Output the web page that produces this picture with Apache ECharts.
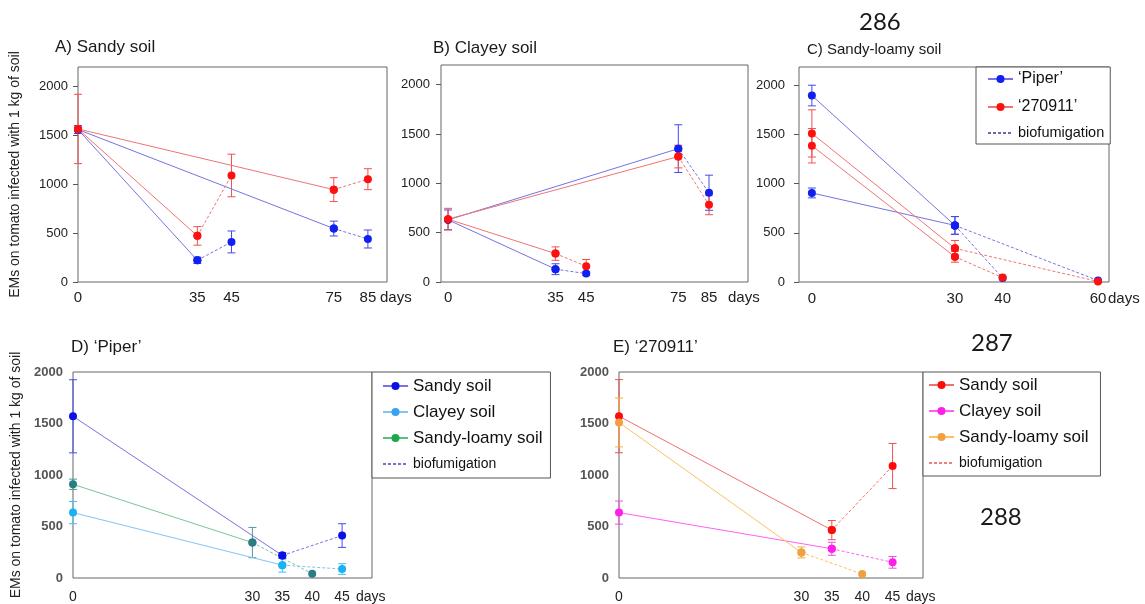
<!DOCTYPE html>
<html>
<head>
<meta charset="utf-8">
<script src="https://cdn.jsdelivr.net/npm/echarts@6/dist/echarts.min.js"></script>
<style>
  html, body { margin: 0; background: #fff; }
  #main { width: 1145px; height: 604px; }
</style>
</head>
<body>
<div id="main"></div>
<script>
// A) Sandy soil  (index paths: 0->35 solid, 35->45 dashed, 0->75 solid, 75->85 dashed)
var aDays = [0, 35, 45, 75, 85];
var aPiper = [1560, 222, 410, 547, 440];
var aPiperErr = [40, 32, 112, 76, 92];
var a270911 = [1566, 472, 1090, 945, 1052];
var a270911Err = [355, 95, 218, 122, 107];

// B) Clayey soil
var bDays = [0, 35, 45, 75, 85];
var bPiper = [630, 130, 85, 1352, 905];
var bPiperErr = [100, 55, 18, 242, 178];
var b270911 = [637, 288, 160, 1272, 782];
var b270911Err = [110, 68, 68, 115, 100];

// C) Sandy-loamy soil, two runs per cultivar
var cPiper1Days = [0, 30, 40];
var cPiper1 = [1895, 575, 40];
var cPiper1Err = [105, 90, 0];
var cPiper2Days = [0, 30, 60];
var cPiper2 = [905, 575, 15];
var cPiper2Err = [50, 90, 0];
var c2709111Days = [0, 30, 60];
var c2709111 = [1510, 342, 5];
var c2709111Err = [240, 80, 0];
var c2709112Days = [0, 30, 40];
var c2709112 = [1385, 256, 45];
var c2709112Err = [175, 55, 0];

// D) 'Piper'
var dSandyDays = [0, 35, 45];
var dSandy = [1570, 219, 412];
var dSandyErr = [355, 28, 115];
var dClayeyDays = [0, 35, 45];
var dClayey = [635, 125, 87];
var dClayeyErr = [108, 68, 52];
var dLoamyDays = [0, 30, 40];
var dLoamy = [910, 344, 42];
var dLoamyErr = [50, 147, 0];

// E) '270911'
var eSandyDays = [0, 35, 45];
var eSandy = [1571, 465, 1087];
var eSandyErr = [355, 93, 219];
var eClayeyDays = [0, 35, 45];
var eClayey = [635, 284, 152];
var eClayeyErr = [112, 63, 57];
var eLoamyDays = [0, 30, 40];
var eLoamy = [1510, 248, 39];
var eLoamyErr = [237, 53, 0];

var yTicks = [0, 500, 1000, 1500, 2000];
var abTicks = [0, 35, 45, 75, 85];
var cTicks = [0, 30, 40, 60];
var deTicks = [0, 30, 35, 40, 45];
var yName = 'EMs on tomato infected with 1 kg of soil';

var FONT = '"Liberation Sans", Arial, sans-serif';
var NUMFONT = 'Lato, "Open Sans", sans-serif';
var BLUE = { line: '#7474e2', dot: '#1020f0', err: '#4848ea' };
var RED = { line: '#f07474', dot: '#ff1010', err: '#f05050' };

var chart = echarts.init(document.getElementById('main'));

function pick(days, vals, idx) {
  return idx.map(function (i) { return [days[i], vals[i]]; });
}

function line(name, g, data, col, dashed) {
  return {
    name: name, type: 'line', xAxisIndex: g, yAxisIndex: g, data: data,
    symbol: 'circle', symbolSize: 8, silent: true, z: 3,
    lineStyle: { color: col.line, width: 1, type: dashed ? [3, 2] : 'solid' },
    itemStyle: { color: col.dot }
  };
}

function renderErr(params, api) {
  var x = api.value(0);
  var lo = api.coord([x, api.value(1)]);
  var hi = api.coord([x, api.value(2)]);
  var w = 4;
  var st = { stroke: api.visual('color'), lineWidth: 1 };
  return {
    type: 'group', children: [
      { type: 'line', shape: { x1: lo[0], y1: lo[1], x2: hi[0], y2: hi[1] }, style: st },
      { type: 'line', shape: { x1: lo[0] - w, y1: lo[1], x2: lo[0] + w, y2: lo[1] }, style: st },
      { type: 'line', shape: { x1: hi[0] - w, y1: hi[1], x2: hi[0] + w, y2: hi[1] }, style: st }
    ]
  };
}

function errs(g, days, vals, err, col) {
  var data = [];
  days.forEach(function (d, i) {
    if (err[i] > 0) data.push([d, vals[i] - err[i], vals[i] + err[i]]);
  });
  return {
    type: 'custom', xAxisIndex: g, yAxisIndex: g, data: data, silent: true, z: 2,
    renderItem: renderErr, itemStyle: { color: col.err }
  };
}

// five-point panels (A, B)
function fivePoint(name, g, days, vals, err, col) {
  return [
    errs(g, days, vals, err, col),
    line(name, g, pick(days, vals, [0, 1]), col, false),
    line(name, g, pick(days, vals, [0, 3]), col, false),
    line(name, g, pick(days, vals, [1, 2]), col, true),
    line(name, g, pick(days, vals, [3, 4]), col, true)
  ];
}

// three-point paths (C, D, E): first leg solid, second dashed
function threePoint(name, g, days, vals, err, col) {
  return [
    errs(g, days, vals, err, col),
    line(name, g, pick(days, vals, [0, 1]), col, false),
    line(name, g, pick(days, vals, [1, 2]), col, true)
  ];
}

// legend-only entry for the dashed "biofumigation" key
function dummy(name, g, color) {
  return {
    name: name, type: 'line', xAxisIndex: g, yAxisIndex: g, data: [], symbol: 'none',
    lineStyle: { color: color, width: 1, type: [3, 2] },
    itemStyle: { color: 'rgba(0,0,0,0)', borderWidth: 0 }
  };
}

function plain(v) { return String(v); }

function xAxis(g, min, max, ticks, gap, size, margin) {
  return {
    gridIndex: g, type: 'value', min: min, max: max,
    axisLine: { show: false, onZero: false }, axisTick: { show: false }, splitLine: { show: false },
    axisLabel: { customValues: ticks, formatter: plain, fontSize: size, color: '#222', margin: margin, fontFamily: FONT },
    name: 'days', nameLocation: 'end', nameGap: gap, nameMoveOverlap: false,
    nameTextStyle: { fontSize: size, color: '#222', verticalAlign: 'top', padding: [margin, 0, 0, 0], fontFamily: FONT }
  };
}

function yAxis(g, max, bold, ticks, margin, name, nameGap) {
  var ax = {
    gridIndex: g, type: 'value', min: 0, max: max, interval: 500,
    axisLine: { show: false, onZero: false }, splitLine: { show: false },
    axisTick: { show: ticks, customValues: yTicks, length: 5, lineStyle: { color: '#555' } },
    axisLabel: {
      customValues: yTicks, formatter: plain, fontSize: 13, margin: margin, fontFamily: FONT,
      color: bold ? '#555' : '#222', fontWeight: bold ? 'bold' : 'normal'
    }
  };
  if (name) {
    ax.name = name;
    ax.nameLocation = 'middle';
    ax.nameGap = nameGap;
    ax.nameTextStyle = { fontSize: 14, color: '#222', fontFamily: FONT };
  }
  return ax;
}

function grid(left, top, width, height) {
  return {
    left: left, top: top, width: width, height: height, show: true,
    borderColor: '#666', borderWidth: 1, containLabel: false, outerBoundsMode: 'none'
  };
}

function title(text, left, top, size, family) {
  return {
    text: text, left: left, top: top, padding: 0,
    textStyle: { fontSize: size, fontWeight: 'normal', color: '#1a1a1a', fontFamily: family || FONT }
  };
}

var D_SANDY = { line: '#7a70e8', dot: '#0a10e8', err: '#4a4af0' };
var D_CLAYEY = { line: '#80c4f6', dot: '#19b2f2', err: '#40c0f0' };
var D_LOAMY = { line: '#7cc49a', dot: '#2b7d84', err: '#4a9a98' };
var E_SANDY = { line: '#f07070', dot: '#ff0a0a', err: '#f05050' };
var E_CLAYEY = { line: '#ff60f4', dot: '#ff1fe8', err: '#f050e0' };
var E_LOAMY = { line: '#ffc060', dot: '#f0a040', err: '#f0b040' };

var C_PIPER = 'C|\u2018Piper\u2019';
var C_2709 = 'C|\u2018270911\u2019';

var series = [].concat(
  fivePoint('A|Piper', 0, aDays, aPiper, aPiperErr, BLUE),
  fivePoint('A|270911', 0, aDays, a270911, a270911Err, RED),
  fivePoint('B|Piper', 1, bDays, bPiper, bPiperErr, BLUE),
  fivePoint('B|270911', 1, bDays, b270911, b270911Err, RED),
  threePoint(C_PIPER, 2, cPiper1Days, cPiper1, cPiper1Err, BLUE),
  threePoint(C_PIPER, 2, cPiper2Days, cPiper2, cPiper2Err, BLUE),
  threePoint(C_2709, 2, c2709111Days, c2709111, c2709111Err, RED),
  threePoint(C_2709, 2, c2709112Days, c2709112, c2709112Err, RED),
  [dummy('C|biofumigation', 2, '#6a6aa8')],
  threePoint('D|Sandy soil', 3, dSandyDays, dSandy, dSandyErr, D_SANDY),
  threePoint('D|Clayey soil', 3, dClayeyDays, dClayey, dClayeyErr, D_CLAYEY),
  threePoint('D|Sandy-loamy soil', 3, dLoamyDays, dLoamy, dLoamyErr, D_LOAMY),
  [dummy('D|biofumigation', 3, '#7a70c8')],
  threePoint('E|Sandy soil', 4, eSandyDays, eSandy, eSandyErr, E_SANDY),
  threePoint('E|Clayey soil', 4, eClayeyDays, eClayey, eClayeyErr, E_CLAYEY),
  threePoint('E|Sandy-loamy soil', 4, eLoamyDays, eLoamy, eLoamyErr, E_LOAMY),
  [dummy('E|biofumigation', 4, '#f08080')]
);

function legend(left, top, padding, items, fonts, lh) {
  return {
    left: left, top: top, orient: 'vertical', padding: padding, itemGap: lh.gap,
    itemWidth: 25, itemHeight: 10, selectedMode: false,
    borderColor: '#555', borderWidth: 1, backgroundColor: '#fff',
    formatter: function (n) { return n.split('|')[1]; },
    textStyle: { color: '#111', fontFamily: FONT },
    data: items.map(function (it, i) {
      return { name: it, textStyle: { fontSize: fonts[i], lineHeight: lh.h[i], color: '#111', fontFamily: FONT } };
    })
  };
}

var legD = legend(372, 372, [1, 8, 1, 10],
  ['D|Sandy soil', 'D|Clayey soil', 'D|Sandy-loamy soil', 'D|biofumigation'],
  [17, 17, 17, 14], { gap: 0, h: [26, 26, 26, 26] });
legD.data[2].itemStyle = { color: '#1aa84a' };
legD.data[2].lineStyle = { color: '#55c080' };
legD.data[1].itemStyle = { color: '#3aa0f0' };

var option = {
  animation: false,
  backgroundColor: '#fff',
  title: [
    title('A) Sandy soil', 55, 39, 17),
    title('B) Clayey soil', 433, 40, 17),
    title('C) Sandy-loamy soil', 807, 42, 15),
    title('286', 859, 10, 24, NUMFONT),
    title('D) \u2018Piper\u2019', 71, 339, 17),
    title('E) \u2018270911\u2019', 613, 339, 17),
    title('287', 971, 331, 24, NUMFONT),
    title('288', 980, 505, 24, NUMFONT)
  ],
  legend: [
    legend(976, 67, [1, 6, 2, 11], [C_PIPER, C_2709, 'C|biofumigation'],
      [16, 16, 14.5], { gap: 6, h: [22, 22, 18] }),
    legD,
    legend(923, 372, [0, 12, 0, 5],
      ['E|Sandy soil', 'E|Clayey soil', 'E|Sandy-loamy soil', 'E|biofumigation'],
      [17, 17, 17, 14], { gap: 0, h: [26, 26, 26, 26] })
  ],
  grid: [
    grid(78, 67, 309, 215),
    grid(441, 65, 307, 217),
    grid(799, 67, 310, 215),
    grid(73, 372, 299, 206),
    grid(619, 372, 304, 206)
  ],
  xAxis: [
    xAxis(0, 0, 90.6, abTicks, -7, 15, 8),
    xAxis(1, -2.3, 97.7, abTicks, -20, 15, 8),
    xAxis(2, -2.7, 62.3, cTicks, -1, 15, 9),
    xAxis(3, 0, 50, deTicks, -16, 14, 12),
    xAxis(4, 0, 50, deTicks, -17, 14, 12)
  ],
  yAxis: [
    yAxis(0, 2200, false, true, 10, yName, 56),
    yAxis(1, 2200, false, true, 11),
    yAxis(2, 2185, false, true, 14),
    yAxis(3, 2000, true, false, 10, yName, 50),
    yAxis(4, 2000, true, false, 10)
  ],
  series: series
};

chart.setOption(option);
</script>
</body>
</html>
